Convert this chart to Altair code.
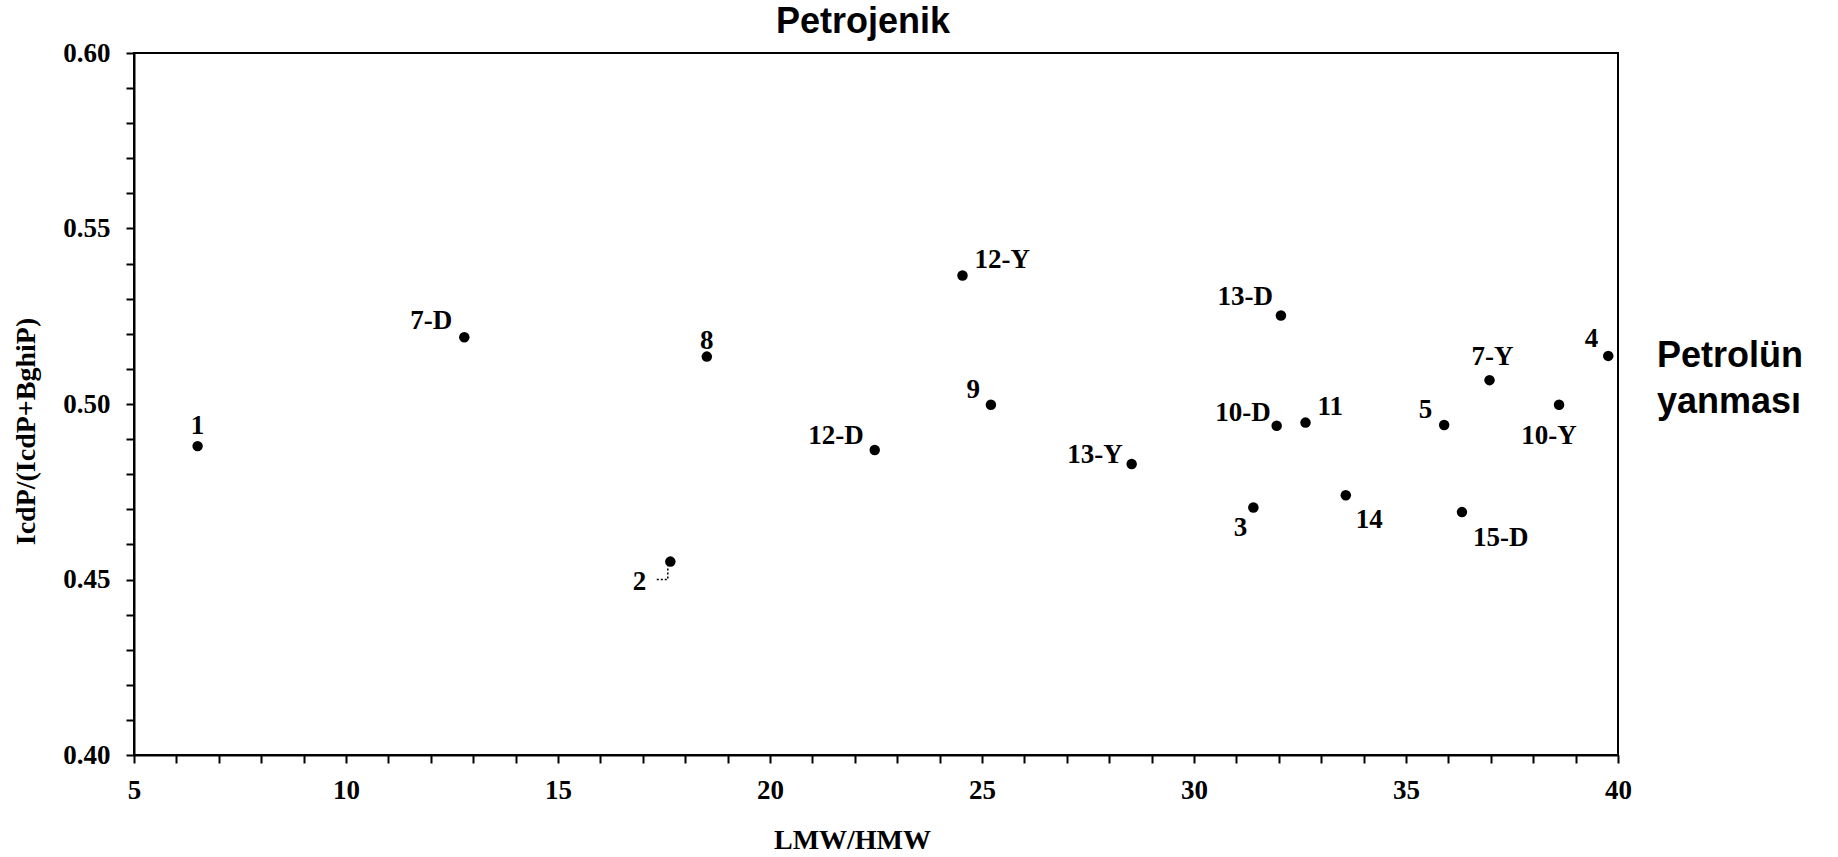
import altair as alt
import pandas as pd

# Sample identifiers and their diagnostic ratios
sample = ["1", "2", "3", "4", "5", "7-D", "7-Y", "8", "9", "10-D", "10-Y",
          "11", "12-D", "12-Y", "13-D", "13-Y", "14", "15-D"]
lmw_hmw = [6.50, 17.65, 31.40, 39.77, 35.90, 12.79, 36.97, 18.51, 25.21, 31.95,
           38.61, 32.63, 22.47, 24.54, 32.05, 28.53, 33.58, 36.32]
icdp_ratio = [0.488, 0.4551, 0.4705, 0.5137, 0.4940, 0.5190, 0.5068, 0.5135,
              0.4998, 0.4938, 0.4998, 0.4947, 0.4869, 0.5366, 0.5252, 0.4829,
              0.4740, 0.4692]

# Dotted leader joining label "2" to its point
leader_x = [17.33, 17.59, 17.59]
leader_y = [0.4500, 0.4500, 0.4538]

# Label anchoring per sample: (align, dx, dy to baseline) in pixels
placement = {
    "1": ("center", 0, -12),
    "2": ("right", -24, 28),
    "3": ("right", -6, 28),
    "4": ("right", -10, -9),
    "5": ("right", -12, -7),
    "7-D": ("right", -12, -8),
    "7-Y": ("center", 3, -15),
    "8": ("center", 0, -8),
    "9": ("right", -11, -7),
    "10-D": ("right", -6, -5),
    "10-Y": ("center", -10, 39),
    "11": ("left", 12, -8),
    "12-D": ("right", -11, -6),
    "12-Y": ("left", 12, -8),
    "13-D": ("right", -8, -11),
    "13-Y": ("right", -9, -1),
    "14": ("left", 10, 33),
    "15-D": ("left", 11, 34),
}

SERIF = "Liberation Serif"
SANS = "Liberation Sans"

points = pd.DataFrame({"sample": sample, "lmw_hmw": lmw_hmw, "ratio": icdp_ratio})
leader = pd.DataFrame({"lmw_hmw": leader_x, "ratio": leader_y,
                       "step": list(range(len(leader_x)))})

x_scale = alt.Scale(domain=[5, 40], nice=False, zero=False)
y_scale = alt.Scale(domain=[0.40, 0.60], nice=False, zero=False)

x_axis = alt.Axis(
    values=list(range(5, 41)),
    format="d",
    labelExpr="datum.value % 5 == 0 ? datum.label : ''",
    title="LMW/HMW",
    titleX=718, titleY=93, titleAlign="center", titleBaseline="alphabetic",
    labelPadding=14,
)
y_axis = alt.Axis(
    values=[round(0.40 + i * 0.01, 2) for i in range(21)],
    labelExpr="round(datum.value * 100) % 5 == 0 ? format(datum.value, '.2f') : ''",
    title="IcdP/(IcdP+BghiP)",
    titleX=-100, titleY=378, titleAngle=270, titleAlign="center",
    titleBaseline="alphabetic",
    labelPadding=16,
)

x_enc = alt.X("lmw_hmw:Q", scale=x_scale, axis=x_axis)
y_enc = alt.Y("ratio:Q", scale=y_scale, axis=y_axis)

dots = alt.Chart(points).mark_circle(size=110, color="black", opacity=1).encode(
    x=x_enc, y=y_enc
)

leader_line = alt.Chart(leader).mark_line(
    color="black", strokeWidth=1.5, strokeDash=[2, 2]
).encode(x=x_enc, y=y_enc, order="step:O")

label_layers = []
for name, (align, dx, dy) in placement.items():
    label_layers.append(
        alt.Chart(points)
        .transform_filter(alt.datum.sample == name)
        .mark_text(align=align, baseline="alphabetic", dx=dx, dy=dy,
                   font=SERIF, fontSize=27, fontWeight="bold", color="black")
        .encode(x=x_enc, y=y_enc, text="sample:N")
    )

top_note = alt.Chart(pd.DataFrame({"t": ["Petrojenik"]})).mark_text(
    align="center", baseline="alphabetic", font=SANS, fontSize=36,
    fontWeight="bold", color="black"
).encode(x=alt.value(729), y=alt.value(-20), text="t:N")

side_note = alt.Chart(pd.DataFrame({"t": ["x"]})).mark_text(
    text=["Petrolün", "yanması"], align="left", baseline="alphabetic",
    font=SANS, fontSize=36, fontWeight="bold", color="black", lineHeight=46
).encode(x=alt.value(1523), y=alt.value(314))

chart = (
    alt.layer(leader_line, dots, *label_layers, top_note, side_note)
    .properties(
        width=1484, height=702,
        autosize=alt.AutoSizeParams(type="none"),
        padding={"left": 134, "top": 53, "right": 220, "bottom": 102},
        background="white",
    )
    .configure_view(stroke="black", strokeWidth=2)
    .configure_axis(
        grid=False,
        domainColor="black", domainWidth=2,
        tickColor="black", tickWidth=2, tickSize=8,
        labelFont=SERIF, labelFontSize=27, labelFontWeight="bold",
        labelColor="black", labelFlush=False, labelOverlap=False,
        titleFont=SERIF, titleFontSize=28, titleFontWeight="bold",
        titleColor="black",
    )
)

chart.save("out.html", embed_options={"renderer": "svg", "actions": False})
